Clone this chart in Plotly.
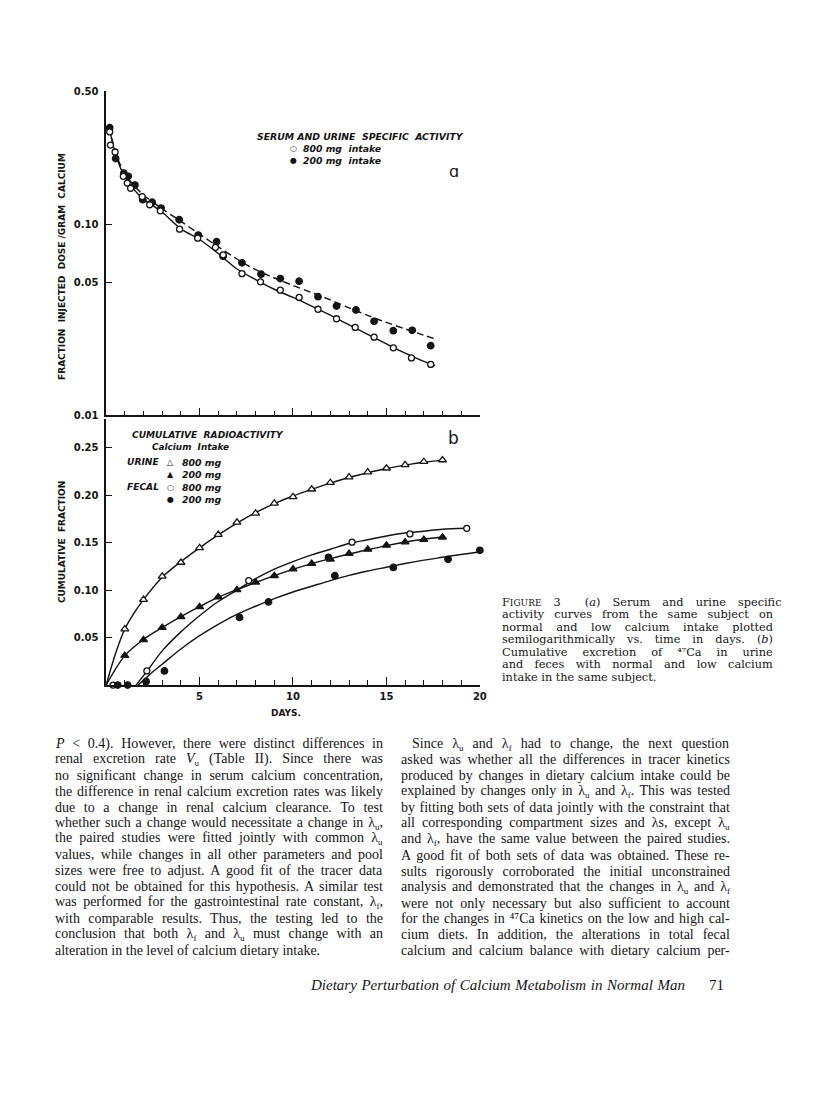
import json
import plotly.graph_objects as go

# page is 816x1100; the html body adds an 8px margin, so the figure is 800x1084
PAGE_OFF = 8
FW, FH = 800, 1084

# ---------------- Panel (a): serum and urine specific activity (semilog) ----------------
a_days_800 = [0.19, 0.23, 0.48, 0.92, 1.13, 1.31, 1.93, 2.33, 2.9, 3.93, 4.9, 5.85, 6.26,
              7.27, 8.26, 9.32, 10.33, 11.34, 12.33, 13.33, 14.34, 15.37, 16.34, 17.37]
a_sa_800 = [0.306, 0.261, 0.240, 0.179, 0.165, 0.155, 0.140, 0.127, 0.118, 0.0946, 0.0849,
            0.0760, 0.0693, 0.0553, 0.0501, 0.0453, 0.0415, 0.0360, 0.0321, 0.0289, 0.0257,
            0.0226, 0.0200, 0.0185]
a_days_200 = [0.19, 0.51, 0.95, 1.18, 1.54, 1.96, 2.46, 2.94, 3.91, 4.93, 5.91, 6.26, 7.27,
              8.29, 9.32, 10.33, 11.34, 12.33, 13.37, 14.34, 15.37, 16.38, 17.37]
a_sa_200 = [0.322, 0.222, 0.186, 0.179, 0.161, 0.135, 0.131, 0.122, 0.106, 0.0881, 0.0813,
            0.0683, 0.0630, 0.0549, 0.0521, 0.0505, 0.0419, 0.0374, 0.0357, 0.0311, 0.0278,
            0.0279, 0.0232]
# fitted curves
a_fit_days_800 = [0.2, 0.5, 1, 1.5, 2, 3, 4, 5, 6, 7, 8, 9, 10, 11, 12, 13, 14, 15, 16, 17, 17.6]
a_fit_800 = [0.31, 0.235, 0.177, 0.152, 0.136, 0.116, 0.0950, 0.0835, 0.0705, 0.0585, 0.0515,
             0.0458, 0.0415, 0.0374, 0.0335, 0.0298, 0.0266, 0.0237, 0.0212, 0.0192, 0.0182]
a_fit_days_200 = [0.2, 0.5, 1, 1.5, 2, 3, 4, 5, 6, 7, 8, 9, 10, 11, 12, 13, 14, 15, 16, 17, 17.7]
a_fit_200 = [0.322, 0.238, 0.185, 0.160, 0.143, 0.121, 0.104, 0.089, 0.0765, 0.066, 0.058,
             0.0525, 0.0480, 0.0440, 0.0403, 0.0366, 0.0334, 0.0307, 0.0284, 0.0263, 0.0250]

# ---------------- Panel (b): cumulative radioactivity ----------------
b_urine_days = [1, 2, 3, 4, 5, 6, 7, 8, 9, 10, 11, 12, 13, 14, 15, 16, 17, 18]
b_urine_800 = [0.059, 0.090, 0.1145, 0.129, 0.1445, 0.1584, 0.1712, 0.1808, 0.1912, 0.1981,
               0.2061, 0.213, 0.2189, 0.2241, 0.2282, 0.2317, 0.2351, 0.2369]
b_urine_200 = [0.0311, 0.0477, 0.0605, 0.0719, 0.0823, 0.0927, 0.1003, 0.1082, 0.1151, 0.1221,
               0.1279, 0.1324, 0.1383, 0.1428, 0.147, 0.1504, 0.1532, 0.1556]
b_fecal_days_800 = [0.37, 2.18, 7.63, 13.16, 16.26, 19.3]
b_fecal_800 = [0.0, 0.0149, 0.110, 0.1504, 0.1591, 0.1650]
b_fecal_days_200 = [0.62, 1.15, 2.14, 3.12, 7.14, 8.69, 11.9, 12.24, 15.37, 18.3, 20.0]
b_fecal_200 = [0.0, 0.0, 0.0038, 0.0149, 0.0712, 0.0875, 0.1345, 0.1151, 0.1238, 0.1324, 0.1418]
# fitted curves
b_fit_days_u800 = [0, 0.5, 1, 1.5, 2, 3, 4, 5, 6, 7, 8, 9, 10, 11, 12, 13, 14, 15, 16, 17, 18]
b_fit_u800 = [0.0, 0.033, 0.059, 0.076, 0.090, 0.1135, 0.130, 0.1445, 0.158, 0.1705, 0.1815,
              0.191, 0.199, 0.206, 0.2125, 0.2185, 0.2235, 0.228, 0.2315, 0.2345, 0.2365]
b_fit_days_u200 = [0, 1, 2, 3, 4, 5, 6, 7, 8, 9, 10, 11, 12, 13, 14, 15, 16, 17, 18]
b_fit_u200 = [0.0, 0.031, 0.048, 0.0605, 0.072, 0.0825, 0.0925, 0.1005, 0.108, 0.1152, 0.1218,
              0.1278, 0.1330, 0.1380, 0.1425, 0.1468, 0.1505, 0.1535, 0.1558]
b_fit_days_f800 = [1.6, 2.2, 3, 4, 5, 6, 7, 8, 9, 10, 11, 12, 13, 14, 15, 16, 17, 18, 19.2]
b_fit_f800 = [0.0, 0.015, 0.036, 0.056, 0.073, 0.088, 0.100, 0.112, 0.122, 0.130, 0.137, 0.143,
              0.149, 0.153, 0.157, 0.160, 0.162, 0.164, 0.165]
b_fit_days_f200 = [1.7, 2, 2.5, 3, 4, 5, 6, 7, 8, 9, 10, 11, 12, 13, 14, 15, 16, 17, 18, 19, 20]
b_fit_f200 = [0.0, 0.005, 0.014, 0.022, 0.038, 0.052, 0.064, 0.0745, 0.083, 0.091, 0.098, 0.104,
              0.110, 0.1155, 0.120, 0.124, 0.128, 0.1315, 0.1345, 0.1375, 0.140]

a_ytick_vals = [0.01, 0.05, 0.10, 0.50]
a_ytick_text = ["0.01", "0.05", "0.10", "0.50"]
b_ytick_vals = [0.05, 0.10, 0.15, 0.20, 0.25]
b_ytick_text = ["0.05", "0.10", "0.15", "0.20", "0.25"]
x_major = [5, 10, 15, 20]
x_minor = [d for d in range(1, 20) if d % 5 != 0]

INK = "#141414"
fig = go.Figure()


def PX(x):
    return (x - PAGE_OFF) / FW


def PY(y):
    return 1 - (y - PAGE_OFF) / FH


def curve(x, y, ax, dash="solid"):
    fig.add_trace(go.Scatter(x=x, y=y, mode="lines", xaxis=ax[0], yaxis=ax[1],
                             line=dict(color=INK, width=1.45, dash=dash, shape="spline", smoothing=0.9),
                             hoverinfo="skip", showlegend=False))


def pts(x, y, ax, symbol, size, filled):
    fig.add_trace(go.Scatter(x=x, y=y, mode="markers", xaxis=ax[0], yaxis=ax[1], cliponaxis=False,
                             marker=dict(symbol=symbol, size=size,
                                         color=INK if filled else "white",
                                         line=dict(color=INK, width=1.3)),
                             showlegend=False))


A = ("x", "y")
B = ("x2", "y2")
curve(a_fit_days_800, a_fit_800, A)
curve(a_fit_days_200, a_fit_200, A, dash="7px,4px")
pts(a_days_200, a_sa_200, A, "circle", 6.5, True)
pts(a_days_800, a_sa_800, A, "circle", 6, False)

curve(b_fit_days_u800, b_fit_u800, B)
curve(b_fit_days_u200, b_fit_u200, B)
curve(b_fit_days_f800, b_fit_f800, B)
curve(b_fit_days_f200, b_fit_f200, B)
pts(b_urine_days, b_urine_800, B, "triangle-up", 7, False)
pts(b_urine_days, b_urine_200, B, "triangle-up", 7, True)
pts(b_fecal_days_800, b_fecal_800, B, "circle", 6, False)
pts(b_fecal_days_200, b_fecal_200, B, "circle", 6.5, True)

tickfont = dict(family="DejaVu Sans", size=10, color=INK, weight="bold")
common_x = dict(domain=[PX(107), PX(484)], range=[0, 20], showline=True, linecolor=INK,
                linewidth=1.5, showgrid=False, zeroline=False, ticks="inside", ticklen=8,
                tickwidth=1.3, tickcolor=INK, tickvals=x_major,
                minor=dict(tickvals=x_minor, ticks="inside", ticklen=5, tickwidth=1.2, tickcolor=INK),
                tickfont=tickfont)
common_y = dict(showline=True, linecolor=INK, linewidth=1.5, showgrid=False, zeroline=False,
                ticks="inside", ticklen=6, tickwidth=1.3, tickcolor=INK, tickfont=tickfont,
                ticklabelstandoff=4)
fig.update_layout(
    width=FW, height=FH, margin=dict(l=0, r=0, t=0, b=0),
    paper_bgcolor="white", plot_bgcolor="white", showlegend=False,
    xaxis=dict(**common_x, anchor="y", showticklabels=False),
    yaxis=dict(**common_y, domain=[PY(414.5), PY(87)], type="log", range=[-2, -0.30103],
               anchor="x", tickvals=a_ytick_vals, ticktext=a_ytick_text),
    xaxis2=dict(**common_x, anchor="y2", showticklabels=True, ticklabelstandoff=1),
    yaxis2=dict(**common_y, domain=[PY(687), PY(418)], range=[0, 0.2802], anchor="x2",
                tickvals=b_ytick_vals, ticktext=b_ytick_text),
)

JUSTIFY = {}


def ann(text, x, y, size, family="DejaVu Sans", xanchor="left", weight="normal",
        style="normal", angle=0, justify_to=None):
    fig.add_annotation(text=text, x=PX(x), y=PY(y), xref="paper", yref="paper",
                       showarrow=False, xanchor=xanchor, yanchor="middle", textangle=angle,
                       align="left" if xanchor == "left" else "center", borderpad=0,
                       font=dict(size=size, family=family, color=INK, weight=weight, style=style))
    if justify_to is not None:
        JUSTIFY[str(len(fig.layout.annotations) - 1)] = justify_to - x


SANS = "DejaVu Sans"
# axis titles
ann("FRACTION  INJECTED  DOSE /GRAM  CALCIUM", 63, 264, 9, SANS, "center", "bold", angle=-90)
ann("CUMULATIVE  FRACTION", 62, 543, 9, SANS, "center", "bold", angle=-90)
ann("DAYS.", 288, 715, 9, SANS, "center", "bold")

# legend panel a
ann("SERUM AND URINE  SPECIFIC  ACTIVITY", 258, 133, 9.3, SANS, "left", "bold", "italic")
ann("○", 296, 145, 8, SANS, "center", "bold")
ann("800 mg  intake", 305, 145, 9.3, SANS, "left", "bold", "italic")
ann("●", 296, 157, 8, SANS, "center", "bold")
ann("200 mg  intake", 305, 157, 9.3, SANS, "left", "bold", "italic")
ann("ɑ", 458, 168, 16, SANS, "center")

# legend panel b
ann("CUMULATIVE  RADIOACTIVITY", 132, 434, 9.1, SANS, "left", "bold", "italic")
ann("Calcium  Intake", 152, 446, 8.9, SANS, "left", "bold", "italic")
ann("URINE", 127, 462, 9.1, SANS, "left", "bold", "italic")
ann("△", 172, 462, 8, SANS, "center", "bold")
ann("800 mg", 183, 462, 9.4, SANS, "left", "bold", "italic")
ann("▲", 172, 474, 8, SANS, "center", "bold")
ann("200 mg", 183, 474, 9.4, SANS, "left", "bold", "italic")
ann("FECAL", 127, 487, 9.1, SANS, "left", "bold", "italic")
ann("○", 172, 487, 8, SANS, "center", "bold")
ann("800 mg", 183, 487, 9.4, SANS, "left", "bold", "italic")
ann("●", 172, 499, 8, SANS, "center", "bold")
ann("200 mg", 183, 499, 9.4, SANS, "left", "bold", "italic")
ann("b", 457, 437, 17, SANS, "center")

# small lowered letters (subscripts) kept inline as styled spans
LU = "λ<span style='font-size:9px;baseline-shift:-3px'>u</span>"
LF = "λ<span style='font-size:9px;baseline-shift:-3px'>f</span>"
VU = "<i>V</i><span style='font-size:9px;baseline-shift:-3px'>u</span>"

caption = [
    "F<span style='font-size:9px'>IGURE</span> 3  (<i>a</i>) Serum and urine specific",
    "activity curves from the same subject on",
    "normal and low calcium intake plotted",
    "semilogarithmically vs. time in days. (<i>b</i>)",
    "Cumulative excretion of ⁴⁷Ca in urine",
    "and feces with normal and low calcium",
    "intake in the same subject.",
]
for i, line in enumerate(caption):
    last = i == len(caption) - 1
    ann(line, 505, 603.5 + i * 12.6, 11.3, "DejaVu Serif", "left",
        justify_to=None if last else 776)

SERIF = "Liberation Serif"
left_col = [
    "<i>P</i> < 0.4). However, there were distinct differences in",
    "renal excretion rate " + VU + " (Table II). Since there was",
    "no significant change in serum calcium concentration,",
    "the difference in renal calcium excretion rates was likely",
    "due to a change in renal calcium clearance. To test",
    "whether such a change would necessitate a change in " + LU + ",",
    "the paired studies were fitted jointly with common " + LU,
    "values, while changes in all other parameters and pool",
    "sizes were free to adjust. A good fit of the tracer data",
    "could not be obtained for this hypothesis. A similar test",
    "was performed for the gastrointestinal rate constant, " + LF + ",",
    "with comparable results. Thus, the testing led to the",
    "conclusion that both " + LF + " and " + LU + " must change with an",
    "alteration in the level of calcium dietary intake.",
]
right_col = [
    "Since " + LU + " and " + LF + " had to change, the next question",
    "asked was whether all the differences in tracer kinetics",
    "produced by changes in dietary calcium intake could be",
    "explained by changes only in " + LU + " and " + LF + ". This was tested",
    "by fitting both sets of data jointly with the constraint that",
    "all corresponding compartment sizes and λs, except " + LU,
    "and " + LF + ", have the same value between the paired studies.",
    "A good fit of both sets of data was obtained. These re-",
    "sults rigorously corroborated the initial unconstrained",
    "analysis and demonstrated that the changes in " + LU + " and " + LF,
    "were not only necessary but also sufficient to account",
    "for the changes in ⁴⁷Ca kinetics on the low and high cal-",
    "cium diets. In addition, the alterations in total fecal",
    "calcium and calcium balance with dietary calcium per-",
]
for i, line in enumerate(left_col):
    last = i == len(left_col) - 1
    ann(line, 54, 746 + i * 16.07, 14, SERIF, "left", justify_to=None if last else 382)
for i, line in enumerate(right_col):
    ann(line, 415 if i == 0 else 403, 746.5 + i * 16.07, 14, SERIF, "left", justify_to=732)

ann("Dietary Perturbation of Calcium Metabolism in Normal Man", 312, 990, 15, SERIF, "left",
    style="italic", justify_to=687)
ann("71", 723, 990, 15, SERIF, "center")

# justify the printed text blocks (word spacing) once plotly has drawn them
post = (
    "(function(){var gd=document.getElementById('{plot_id}');var J=" + json.dumps(JUSTIFY) + ";"
    "function just(){var gs=gd.querySelectorAll('g.annotation');"
    "for(var k=0;k<gs.length;k++){var g=gs[k];var idx=g.getAttribute('data-index');"
    "if(!(idx in J))continue;var t=g.querySelector('text.annotation-text');if(!t)continue;"
    "t.style.wordSpacing='0px';var w=t.getBBox().width;"
    "var n=(t.textContent.trim().match(/\\s+/g)||[]).length;"
    "if(n>0&&w<J[idx]){t.style.wordSpacing=((J[idx]-w)/n)+'px';}}}"
    "just();setTimeout(just,30);setTimeout(just,300);"
    "if(gd.on){gd.on('plotly_afterplot',function(){setTimeout(just,0);});}})();"
)

fig.write_html("out.html", post_script=post)
